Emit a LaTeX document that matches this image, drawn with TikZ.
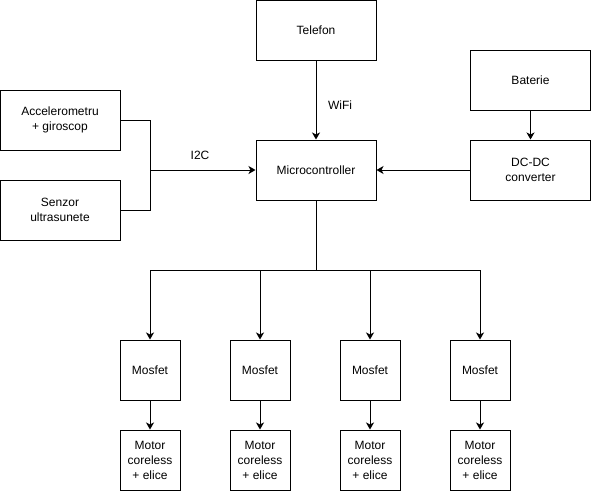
\documentclass[tikz,border=0pt]{standalone}
\usepackage{fontspec}
\setmainfont{Liberation Sans}
\usetikzlibrary{arrows.meta}
\begin{document}
\begin{tikzpicture}[x=1pt,y=-1pt,line width=1pt,
  box/.style={draw,fill=white,align=center,inner sep=0pt,font=\fontsize{12}{15}\selectfont},
  conn/.style={-{Stealth[length=7pt,width=8pt,inset=2pt]}},
  lbl/.style={font=\fontsize{12}{15}\selectfont,inner sep=0pt}]
\useasboundingbox (0,0) rectangle (591,491);
\node[box,minimum width=120pt,minimum height=60pt] (tel) at (316,30) {Telefon};
\node[box,minimum width=120pt,minimum height=60pt] (bat) at (530.5,80) {Baterie};
\node[box,minimum width=120pt,minimum height=60pt] (acc) at (60,120) {Accelerometru\\+ giroscop};
\node[box,minimum width=120pt,minimum height=60pt] (sen) at (60,210) {Senzor\\ultrasunete};
\node[box,minimum width=120pt,minimum height=60pt] (mc) at (316,170) {Microcontroller};
\node[box,minimum width=120pt,minimum height=60pt] (dc) at (530.5,170) {DC-DC\\converter};
\foreach \i/\x in {1/150,2/260,3/370,4/480}{
  \node[box,minimum width=60pt,minimum height=60pt] (m\i) at (\x,370) {Mosfet};
  \node[box,minimum width=60pt,minimum height=60pt] (mot\i) at (\x,460) {Motor\\coreless\\+ elice};
}
\coordinate (j) at (150,170);
\coordinate (bus) at (316,270);
\draw (acc.east) -| (j);
\draw (sen.east) -| (j);
\draw[conn] (j) -- (mc.west);
\node[lbl] at (200,155) {I2C};
\draw[conn] (tel.south) -- (mc.north);
\node[lbl] at (340,105) {WiFi};
\draw[conn] (bat.south) -- (dc.north);
\draw[conn] (dc.west) -- (mc.east);
\draw (mc.south) -- (bus);
\foreach \i in {1,2,3,4}{
  \draw[conn] (bus) -| (m\i.north);
  \draw[conn] (m\i.south) -- (mot\i.north);
}
\end{tikzpicture}
\end{document}
